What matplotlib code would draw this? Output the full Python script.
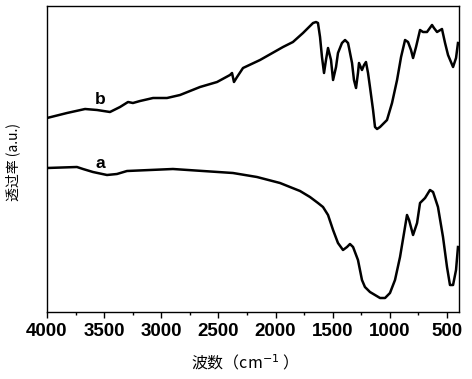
import matplotlib
matplotlib.use("Agg")
import matplotlib.pyplot as plt
from matplotlib.ticker import MultipleLocator

# Curve b (upper)
wn_b = [4000, 3825, 3667, 3562, 3449, 3361, 3291, 3248, 3186, 3072, 2950, 2836, 2661,
        2512, 2399, 2381, 2364, 2337, 2285, 2136, 1935, 1848, 1760, 1672, 1646, 1629,
        1611, 1594, 1576, 1559, 1541, 1515, 1497, 1471, 1454, 1419, 1392, 1366, 1357,
        1331, 1314, 1296, 1279, 1270, 1244, 1226, 1209, 1191, 1174, 1147, 1130, 1112,
        1086, 1025, 981, 937, 902, 867, 841, 815, 797, 771, 736, 710, 675, 631, 614,
        587, 544, 517, 491, 447, 421, 404]
tr_b = [194, 199, 203, 202, 200, 205, 210, 209, 211, 214, 214, 217, 225,
        230, 237, 239, 230, 235, 244, 252, 265, 270, 279, 289, 290, 289,
        275, 255, 239, 252, 264, 252, 232, 245, 259, 269, 272, 269, 264,
        249, 232, 224, 239, 249, 242, 247, 250, 239, 225, 202, 185, 183,
        185, 192, 209, 232, 255, 272, 270, 262, 254, 265, 282, 280, 280, 287, 284,
        280, 283, 269, 257, 245, 254, 269]

# Curve a (lower)
wn_a = [4000, 3738, 3685, 3598, 3475, 3388, 3300, 2898, 2373, 2163, 1961, 1874, 1786,
        1699, 1629, 1585, 1541, 1497, 1454, 1410, 1375, 1349, 1322, 1279, 1244, 1218,
        1174, 1086, 1042, 999, 955, 911, 876, 850, 832, 797, 762, 736, 692, 649, 622,
        579, 535, 500, 474, 447, 421, 404]
tr_a = [144, 145, 143, 140, 137, 138, 141, 143, 139, 135, 129, 125, 121,
        115, 109, 105, 97, 82, 69, 62, 65, 68, 65, 52, 32, 25,
        20, 14, 14, 19, 32, 55, 79, 97, 92, 77, 89, 109, 114, 122, 120,
        105, 75, 45, 27, 27, 42, 65]

xticks = [4000, 3500, 3000, 2500, 2000, 1500, 1000, 500]

fig = plt.figure(figsize=(4.72, 3.79), dpi=100)
ax = fig.add_axes([47/472, 1-312/379, (459-47)/472, (312-6)/379])

ax.plot(wn_b, tr_b, color='black', lw=1.8, solid_joinstyle='round')
ax.plot(wn_a, tr_a, color='black', lw=1.8, solid_joinstyle='round')

ax.set_xlim(4000, 395)
ax.set_ylim(0, 306)
ax.set_xticks(xticks)
ax.xaxis.set_minor_locator(MultipleLocator(250))
ax.set_yticks([])
ax.tick_params(axis='x', which='major', direction='out', length=4, width=1, pad=4)
ax.tick_params(axis='x', which='minor', direction='out', length=2.5, width=1)
for lab in ax.get_xticklabels():
    lab.set_fontfamily('Liberation Sans')
    lab.set_fontweight('bold')
    lab.set_fontsize(13.5)
for s in ax.spines.values():
    s.set_linewidth(1.0)

ax.text(3536, 212, 'b', fontsize=12.5, fontweight='bold', family='Liberation Sans',
        ha='center', va='center')
ax.text(3536, 149, 'a', fontsize=12.5, fontweight='bold', family='Liberation Sans',
        ha='center', va='center')

fig.text(240/472, 1-363/379, '波数（cm$^{-1}$ ）', fontsize=11.5,
         family=['Noto Sans CJK SC', 'DejaVu Sans'], ha='center', va='center')
fig.text(13/472, 1-162/379, '透过率 (a.u.)', fontsize=10, rotation=90,
         family=['Noto Sans CJK SC', 'DejaVu Sans'], ha='center', va='center')

fig.savefig('out.png', dpi=100)
